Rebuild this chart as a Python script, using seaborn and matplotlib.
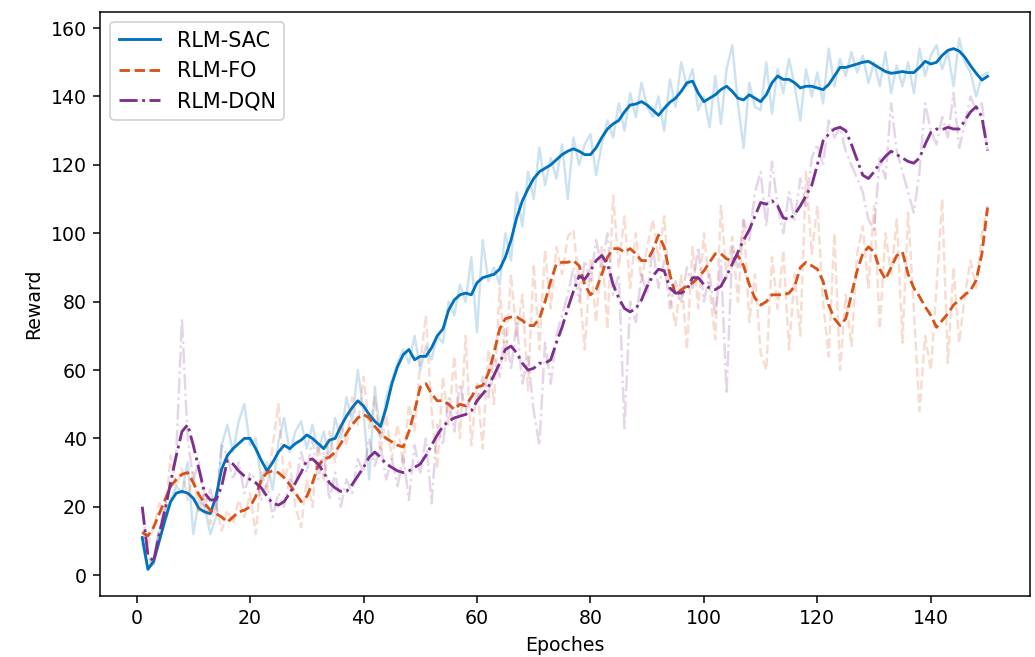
import numpy as np
import pandas as pd
import matplotlib
matplotlib.use('Agg')
import matplotlib.pyplot as plt
import seaborn as sns

# epochs 1..150
epochs = np.arange(1, 151)

# raw rewards (faint lines)
sac_raw = [9, 2, 5, 13, 18, 22, 26, 24, 33, 12,
           22, 20, 12, 17, 38, 44, 36, 45, 50, 38,
           40, 27, 33, 25, 39, 46, 36, 42, 45, 37,
           44, 36, 42, 34, 46, 40, 52, 45, 60, 48,
           28, 55, 40, 52, 57, 62, 66, 62, 70, 60,
           67, 63, 70, 68, 80, 76, 85, 80, 93, 71,
           98, 86, 90, 85, 100, 92, 112, 102, 118, 110,
           125, 114, 122, 116, 126, 110, 128, 120, 126, 129,
           117, 126, 133, 128, 138, 130, 141, 134, 144, 137,
           134, 140, 130, 145, 137, 150, 143, 148, 136, 140,
           131, 146, 132, 148, 155, 138, 125, 144, 137, 136,
           150, 135, 148, 141, 151, 143, 133, 148, 140, 147,
           138, 154, 143, 151, 146, 153, 147, 152, 144, 150,
           143, 153, 141, 149, 143, 150, 141, 154, 146, 152,
           155, 148, 153, 143, 157, 150, 147, 140, 146, 147]

fo_raw = [13, 9, 14, 21, 17, 35, 26, 31, 22, 30,
          18, 25, 15, 21, 13, 19, 15, 22, 17, 24,
          12, 30, 25, 38, 50, 28, 33, 20, 14, 28,
          20, 38, 28, 42, 33, 45, 38, 52, 44, 58,
          43, 52, 36, 47, 34, 44, 32, 50, 42, 62,
          76, 48, 31, 58, 44, 64, 40, 70, 38, 56,
          37, 66, 50, 84, 62, 88, 70, 82, 54, 91,
          66, 95, 78, 96, 88, 99, 101, 85, 66, 92,
          74, 96, 72, 111, 90, 105, 84, 100, 86, 96,
          104, 92, 105, 82, 73, 88, 66, 96, 78, 100,
          84, 69, 108, 87, 99, 80, 104, 74, 88, 65,
          60, 93, 78, 95, 66, 88, 70, 118, 94, 108,
          80, 64, 100, 60, 82, 67, 94, 102, 84, 108,
          72, 100, 88, 104, 68, 106, 78, 48, 70, 60,
          84, 110, 62, 90, 68, 82, 92, 84, 100, 108]

dqn_raw = [20, 5, 3, 14, 20, 28, 36, 75, 40, 28,
           33, 20, 25, 19, 38, 35, 28, 33, 24, 30,
           28, 22, 27, 17, 24, 20, 28, 26, 36, 30,
           40, 28, 36, 22, 30, 20, 28, 24, 34, 30,
           40, 32, 38, 28, 34, 26, 35, 22, 38, 30,
           40, 21, 44, 38, 52, 42, 56, 48, 53, 50,
           58, 52, 64, 58, 72, 60, 74, 56, 64, 48,
           38, 68, 56, 70, 76, 82, 90, 80, 92, 86,
           98, 90, 100, 82, 88, 43, 80, 74, 88, 82,
           96, 84, 92, 78, 86, 80, 90, 84, 96, 80,
           88, 76, 92, 53, 96, 90, 104, 98, 112, 118,
           102, 121, 108, 100, 112, 104, 116, 108, 122, 126,
           120, 133, 128, 131, 124, 120, 116, 112, 104, 101,
           122, 116, 138, 124, 118, 112, 106, 118, 138, 130,
           126, 134, 128, 141, 125, 132, 140, 136, 138, 124]

# smoothed curves (bold lines)
sac_smooth = [11, 1.7, 4, 10, 16, 21.5, 24, 24.5, 24, 22.5,
              19.5, 18.5, 18, 23, 31, 35, 37, 38.5, 40, 40,
              37, 33.5, 30.5, 33, 36, 38, 37, 38.5, 39.5, 41,
              40, 38.5, 37, 39.5, 40, 43.5, 46.5, 49, 51, 49.5,
              47, 45, 43.5, 49, 56, 61, 64.5, 66, 63, 64,
              64, 66.5, 70, 72, 77.5, 80.5, 82, 82.5, 82, 85.5,
              87, 87.5, 88, 89.5, 93, 98, 104.5, 109.5, 113, 116,
              118, 119, 120, 121.5, 123, 124, 124.7, 124, 123, 123,
              125, 128, 130.5, 132, 133, 135.5, 137.5, 137.8, 138.5, 137.5,
              136, 134.5, 136.5, 138.3, 139.5, 141.5, 144, 144.5, 141, 138.5,
              139.5, 140.5, 142, 143, 141.5, 139.5, 139, 140.5, 139.5, 138.5,
              140.5, 144, 146, 145, 145, 144, 142.5, 143, 143, 142.5,
              142, 143.5, 146, 148.5, 148.5, 149, 149.5, 150, 150.3, 149.3,
              148.3, 147.3, 146.8, 147, 147.3, 147, 147, 148.5, 150.3, 149.5,
              150, 152, 153.5, 154, 153.3, 151.5, 149, 146.8, 144.8, 145.9]

fo_smooth = [12.5, 11.5, 14, 18, 22, 26, 28, 29.5, 30, 27,
             23.5, 21, 19, 18, 17, 15.5, 17, 18.5, 19, 20,
             23, 28, 30, 30.5, 30, 28.5, 26.5, 24, 21.5, 23,
             27, 32, 34, 34.5, 36, 38.5, 41.5, 44, 46, 47,
             46, 43.5, 41.5, 40, 39, 38, 37.5, 42, 48, 55,
             56, 53, 51, 51, 50, 48.5, 50, 49.5, 52, 55,
             55.5, 59, 65, 72, 75, 75.5, 75.5, 74.5, 73, 73,
             75, 80, 86, 91, 91.5, 91.5, 92, 90.5, 85, 82,
             83.5, 88, 93, 95.5, 95.5, 94.5, 95.5, 94, 92, 92,
             95, 99.5, 96, 88, 82, 83.5, 84.5, 85.5, 87, 89,
             91.5, 94, 94, 92.5, 92, 93.5, 90.5, 85, 81, 79,
             80, 82, 82, 82, 82.5, 84.5, 90, 91.5, 90.5, 89.5,
             86, 79, 75, 73, 75, 82, 89, 94, 96, 94.5,
             89.5, 86.5, 90, 93.5, 94.5, 88, 84, 81.5, 78.5, 76,
             72.5, 74.5, 76.5, 79, 80.5, 82, 83.3, 86.3, 94, 107.5]

dqn_smooth = [20, 6, 4, 12, 19, 27, 35, 42, 44, 38,
              31, 24, 22, 22, 26, 33.5, 32.5, 30.5, 29, 28,
              27, 25.5, 23, 21, 20.5, 21.5, 24, 27, 30, 33.5,
              34, 32.5, 30, 27, 25.5, 24.5, 24.5, 26.5, 29, 31.5,
              34.5, 36, 34.5, 32.5, 31.5, 30.5, 30, 30.5, 31.5, 32.5,
              35, 38, 41, 43.5, 45, 46, 46.5, 47, 48, 51,
              53, 55, 58.5, 62, 66, 67, 65, 62, 60, 60.5,
              62, 62, 63, 68, 72.5, 78, 83, 87.5, 86.5, 89,
              92, 93.5, 91, 85, 81, 78, 77, 78, 80.5, 84.5,
              87.5, 89.5, 89, 84, 82.5, 82.5, 83.5, 87, 87, 85,
              84, 83.5, 84.5, 87.5, 91, 94.5, 98, 101, 105, 109,
              108.5, 109.5, 108, 104.5, 104, 105.5, 108, 111, 114, 120,
              127, 129, 130.5, 131, 130, 126, 121.5, 117, 116, 118,
              120.5, 122.5, 124, 123, 122, 121, 120.5, 122, 126, 129.5,
              130.5, 130.3, 131, 130.5, 130.5, 133, 135.5, 137, 134, 124.2]

names = ['RLM-SAC', 'RLM-FO', 'RLM-DQN']
colors = ['#0072BD', '#D95319', '#7E2F8E']
styles = ['-', '--', '-.']

DPI = 136
fig, ax = plt.subplots(figsize=(1035 / DPI, 657 / DPI), dpi=DPI)

for raw, smooth, name, c, ls in zip([sac_raw, fo_raw, dqn_raw],
                                    [sac_smooth, fo_smooth, dqn_smooth],
                                    names, colors, styles):
    sns.lineplot(x=epochs, y=raw, ax=ax, color=c, linestyle=ls,
                 linewidth=1.3, alpha=0.2)
    sns.lineplot(x=epochs, y=smooth, ax=ax, color=c, linestyle=ls,
                 linewidth=1.5, label=name)

ax.set_xlabel('Epoches')
ax.set_ylabel('Reward')
ax.legend(loc='upper left', fontsize=11)

fig.subplots_adjust(left=0.0966, right=0.995, top=0.982, bottom=0.093)
plt.savefig('out.png', dpi=DPI)
plt.close()
